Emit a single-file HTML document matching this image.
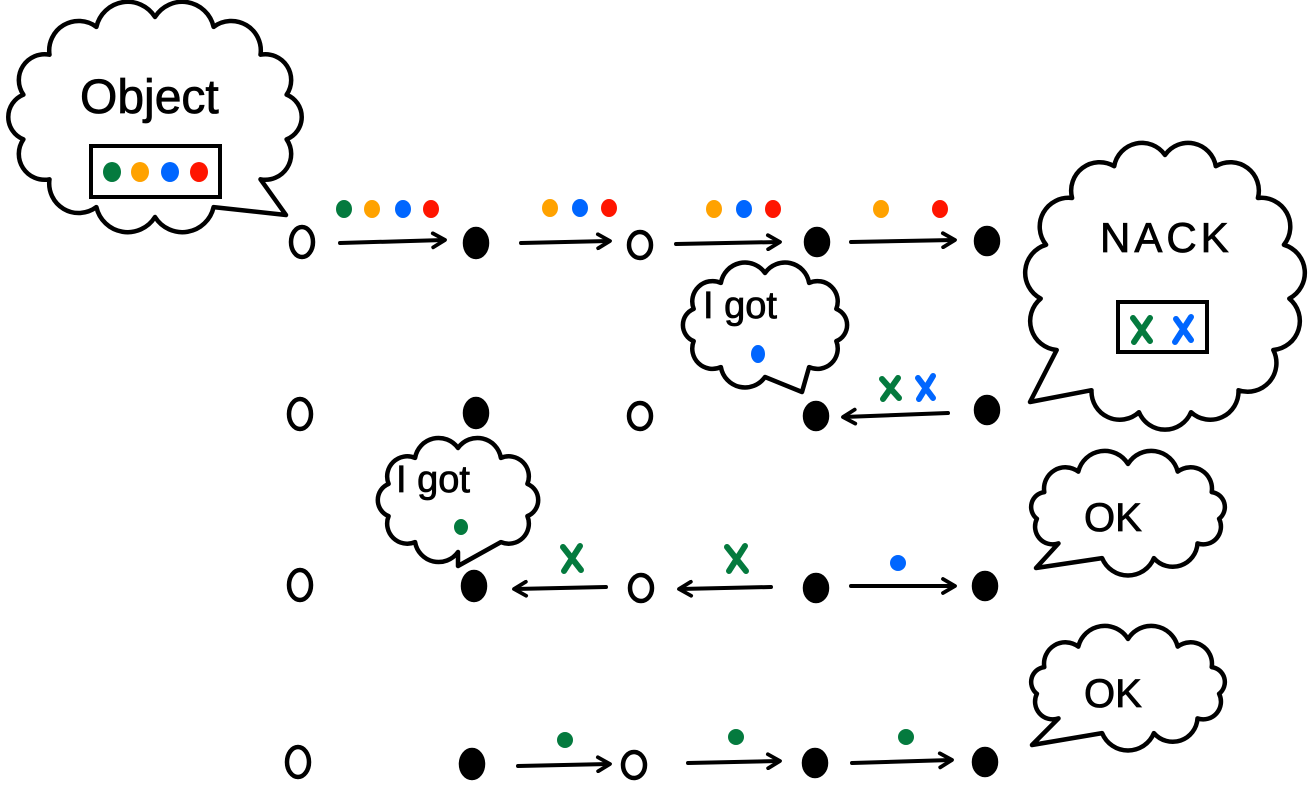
<!DOCTYPE html>
<html><head><meta charset="utf-8"><style>
html,body{margin:0;padding:0;background:#fff;}
svg{display:block}
text{font-family:"Liberation Sans","DejaVu Sans",sans-serif;fill:#000;stroke:#000;stroke-width:0.8}
</style></head><body>
<svg id="s" width="1314" height="796" viewBox="0 0 1314 796" xmlns="http://www.w3.org/2000/svg">
<defs>
<marker id="ah" markerWidth="18" markerHeight="18" refX="14" refY="9" orient="auto" markerUnits="userSpaceOnUse">
<path d="M3,2 L15,9 L3,16" fill="none" stroke="#000" stroke-width="3.8" stroke-linecap="round" stroke-linejoin="round"/>
</marker>
</defs>
<g id="clouds" fill="#fff" stroke="#000" stroke-width="4.5" stroke-linejoin="round"></g>
<g stroke="#000" stroke-width="4" stroke-linecap="round" marker-end="url(#ah)">
<line x1="340" y1="243" x2="444" y2="240"/>
<line x1="521" y1="243" x2="609" y2="241"/>
<line x1="676" y1="244" x2="779" y2="242"/>
<line x1="851" y1="242" x2="954" y2="240"/>
<line x1="948" y1="413" x2="844" y2="417"/>
<line x1="606" y1="587" x2="515" y2="589"/>
<line x1="771" y1="587" x2="680" y2="589"/>
<line x1="851" y1="586" x2="954" y2="586"/>
<line x1="518" y1="766" x2="609" y2="764"/>
<line x1="688" y1="763" x2="779" y2="761"/>
<line x1="852" y1="763" x2="951" y2="760"/>
</g>
<g stroke="#000" stroke-width="4.5">
<g fill="#fff">
<ellipse cx="302" cy="242" rx="11" ry="15"/><ellipse cx="640" cy="245" rx="11" ry="13"/>
<ellipse cx="300" cy="414" rx="11" ry="15"/><ellipse cx="640" cy="416" rx="11" ry="13"/>
<ellipse cx="300" cy="585" rx="11" ry="15"/><ellipse cx="641" cy="588" rx="11" ry="13"/>
<ellipse cx="298" cy="762" rx="11" ry="15"/><ellipse cx="634" cy="765" rx="11" ry="13"/>
</g>
<g fill="#000">
<ellipse cx="476" cy="243" rx="11" ry="14"/><ellipse cx="817" cy="242" rx="11" ry="13"/><ellipse cx="987" cy="241" rx="11" ry="13"/>
<ellipse cx="476" cy="413" rx="11" ry="14"/><ellipse cx="816" cy="416" rx="11" ry="13"/><ellipse cx="987" cy="410" rx="11" ry="13"/>
<ellipse cx="474" cy="586" rx="11" ry="14"/><ellipse cx="816" cy="588" rx="11" ry="13"/><ellipse cx="985" cy="586" rx="11" ry="13"/>
<ellipse cx="472" cy="764" rx="11" ry="14"/><ellipse cx="815" cy="763" rx="11" ry="13"/><ellipse cx="985" cy="762" rx="11" ry="13"/>
</g>
</g>
<g>
<ellipse cx="344" cy="209" rx="8" ry="9" fill="#047a3e"/><ellipse cx="372" cy="209" rx="8" ry="9" fill="#ffa200"/><ellipse cx="403" cy="209" rx="8" ry="9" fill="#0066ff"/><ellipse cx="431" cy="209" rx="8" ry="9" fill="#ff1500"/>
<ellipse cx="550" cy="208" rx="8" ry="9" fill="#ffa200"/><ellipse cx="580" cy="208" rx="8" ry="9" fill="#0066ff"/><ellipse cx="609" cy="208" rx="8" ry="9" fill="#ff1500"/>
<ellipse cx="714" cy="209" rx="8" ry="9" fill="#ffa200"/><ellipse cx="744" cy="209" rx="8" ry="9" fill="#0066ff"/><ellipse cx="773" cy="209" rx="8" ry="9" fill="#ff1500"/>
<ellipse cx="881" cy="209" rx="8" ry="9" fill="#ffa200"/><ellipse cx="940" cy="209" rx="8" ry="9" fill="#ff1500"/>
<ellipse cx="112" cy="172" rx="9" ry="10" fill="#047a3e"/><ellipse cx="140" cy="172" rx="9" ry="10" fill="#ffa200"/><ellipse cx="170" cy="172" rx="9" ry="10" fill="#0066ff"/><ellipse cx="199" cy="172" rx="9" ry="10" fill="#ff1500"/>
<ellipse cx="758" cy="354" rx="7" ry="9" fill="#0066ff"/>
<ellipse cx="461" cy="527" rx="7" ry="8" fill="#047a3e"/>
<ellipse cx="898" cy="563" rx="8" ry="8" fill="#0066ff"/>
<ellipse cx="565" cy="740" rx="8" ry="8" fill="#047a3e"/><ellipse cx="736" cy="737" rx="8" ry="8" fill="#047a3e"/><ellipse cx="906" cy="737" rx="8" ry="8" fill="#047a3e"/>
</g>
<rect x="91" y="146" width="129" height="51" fill="none" stroke="#000" stroke-width="4"/>
<rect x="1118" y="302" width="89" height="50" fill="none" stroke="#000" stroke-width="4"/>
<g stroke-width="6" stroke-linecap="round" fill="none">
<path d="M1133,318 L1150,341 M1150,318 L1134,342" stroke="#047a3e"/>
<path d="M1176,319 L1191,340 M1191,317 L1175,342" stroke="#0066ff"/>
<path d="M882,379 L899,398 M898,378 L883,399" stroke="#047a3e"/>
<path d="M918,378 L933,398 M933,376 L919,399" stroke="#0066ff"/>
<path d="M563,547 L581,570 M580,546 L564,571" stroke="#047a3e"/>
<path d="M727,547 L746,571 M745,546 L729,571" stroke="#047a3e"/>
</g>
<text x="80" y="113" font-size="48">Object</text>
<text x="1100" y="252" font-size="42" letter-spacing="4">NACK</text>
<text x="703" y="318" font-size="38">I got</text>
<text x="396" y="492" font-size="38">I got</text>
<text x="1084" y="531" font-size="40">OK</text>
<text x="1084" y="707" font-size="40">OK</text>
</svg>
<script>
function cloud(cx,cy,rx,ry,n,tailAng,tip){
  var pts=[];
  for(var i=0;i<n;i++){var a=-Math.PI/2+i*2*Math.PI/n;pts.push([cx+rx*Math.cos(a),cy+ry*Math.sin(a),a]);}
  var d="M"+pts[0][0].toFixed(1)+","+pts[0][1].toFixed(1);
  var best=0,bd=1e9;
  for(var i=0;i<n;i++){var a=pts[i][2]+Math.PI/n;var df=Math.abs(Math.atan2(Math.sin(a-tailAng),Math.cos(a-tailAng)));if(df<bd){bd=df;best=i;}}
  for(var i=0;i<n;i++){
    var p=pts[(i+1)%n],q=pts[i];
    if(i==best){d+=" L"+tip[0]+","+tip[1]+" L"+p[0].toFixed(1)+","+p[1].toFixed(1);continue;}
    var ch=Math.hypot(p[0]-q[0],p[1]-q[1]);var r=(ch/2*1.08).toFixed(1);
    d+=" A"+r+","+r+" 0 0 1 "+p[0].toFixed(1)+","+p[1].toFixed(1);
  }
  d+="Z";
  var e=document.createElementNS("http://www.w3.org/2000/svg","path");
  e.setAttribute("d",d);document.getElementById("clouds").appendChild(e);
}
cloud(155,117,135,100,14,0.8,[286,215]);
cloud(1165,285,125,130,15,2.3,[1030,402]);
cloud(765,325,75,52,10,1.1,[802,392]);
cloud(458,500,73,52,10,1.5,[458,566]);
cloud(1128,512,92,48,11,2.4,[1036,568]);
cloud(1128,687,92,48,11,2.4,[1032,745]);
</script>
</body></html>
